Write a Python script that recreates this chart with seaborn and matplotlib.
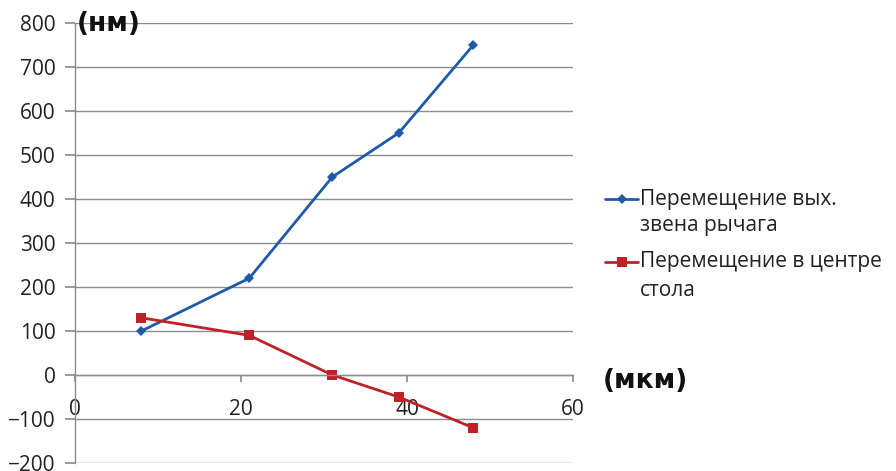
import numpy as np
import pandas as pd
import seaborn as sns
import matplotlib
matplotlib.use("Agg")
import matplotlib.pyplot as plt

# данные
x_vals = [8, 21, 31, 39, 48]
lever_out = [100, 220, 450, 550, 750]      # Перемещение вых. звена рычага
table_center = [130, 90, 0, -50, -120]     # Перемещение в центре стола
series_names = ["Перемещение вых.\nзвена рычага", "Перемещение в центре\nстола"]
x_ticks = [0, 20, 40, 60]
y_ticks = list(range(-200, 801, 100))

sns.set_theme(style="white")
plt.rcParams['font.family'] = ['Open Sans', 'DejaVu Sans']

df = pd.DataFrame({
    "x": x_vals * 2,
    "y": lever_out + table_center,
    "series": [series_names[0]] * len(x_vals) + [series_names[1]] * len(x_vals),
})

W, H = 896, 471
fig = plt.figure(figsize=(W / 100, H / 100), dpi=100)
ax = fig.add_axes([75 / W, 1 - 463 / H, (573 - 75) / W, (463 - 23) / H])

colors = {series_names[0]: "#1f5aa8", series_names[1]: "#be2229"}
sns.lineplot(data=df, x="x", y="y", hue="series", style="series",
             markers={series_names[0]: "D", series_names[1]: "s"},
             dashes=False, palette=colors, linewidth=2, markersize=7,
             markeredgewidth=0, ax=ax, legend=False, sort=False)
# ромбы у синей серии меньше
for ln in ax.lines:
    if ln.get_marker() == "D":
        ln.set_markersize(5.5)

ax.set_xlim(0, 60)
ax.set_ylim(-200, 800)
ax.set_xticks(x_ticks)
ax.set_yticks(y_ticks)
ax.yaxis.grid(True, color="#8c8c8c", linewidth=1)
ax.set_axisbelow(True)
ax.set_xlabel("")
ax.set_ylabel("")

for s in ["top", "right"]:
    ax.spines[s].set_visible(False)
ax.spines["left"].set_color("#8c8c8c")
ax.spines["bottom"].set_color("#8c8c8c")
ax.spines["bottom"].set_position(("data", 0))
ax.spines["left"].set_linewidth(1)
ax.spines["bottom"].set_linewidth(1)

ax.tick_params(axis="y", length=7, color="#8c8c8c", labelsize=15, pad=7, left=True)
ax.tick_params(axis="x", length=5, color="#8c8c8c", labelsize=15, pad=12, bottom=True,
               direction="out")
for lab in ax.get_xticklabels() + ax.get_yticklabels():
    lab.set_color("#222222")

# подписи единиц
fig.text(77 / W, 1 - 24 / H, "(нм)", fontsize=19, fontweight="heavy",
         family="DejaVu Sans", va="center", ha="left", color="#111111")
fig.text(603 / W, 1 - 381 / H, "(мкм)", fontsize=19, fontweight="heavy",
         family="DejaVu Sans", va="center", ha="left", color="#111111")

# легенда: маркер на уровне первой строки подписи
legend_rows = [(199, 226), (262, 291)]
legend_markers = [("D", 5), ("s", 7.5)]
for name, (y1, y2), (mk, ms) in zip(series_names, legend_rows, legend_markers):
    line1, line2 = name.split("\n")
    fig.add_artist(plt.Line2D([605 / W, 638 / W], [1 - y1 / H] * 2,
                              transform=fig.transFigure, color=colors[name],
                              linewidth=2))
    fig.add_artist(plt.Line2D([621.5 / W], [1 - y1 / H], transform=fig.transFigure,
                              color=colors[name], marker=mk, markersize=ms,
                              markeredgewidth=0, linestyle="none"))
    fig.text(640 / W, 1 - y1 / H, line1, fontsize=15, va="center", ha="left",
             color="#222222")
    fig.text(640 / W, 1 - y2 / H, line2, fontsize=15, va="center", ha="left",
             color="#222222")

fig.savefig("out.png", dpi=100)
